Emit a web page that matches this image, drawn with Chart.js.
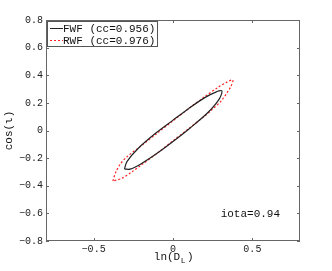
<!DOCTYPE html>
<html>
<head>
<meta charset="utf-8">
<style>
body {
	margin: 0;
	background: white;
}
#wrap {
	width: 332px;
	height: 271px;
}
</style>
<script src="https://cdn.jsdelivr.net/npm/chart.js@4/dist/chart.umd.min.js"></script>
</head>
<body>
<div id="wrap"><canvas id="myChart" width="332" height="271"></canvas></div>
<script>
// points (ln(D_L), cos(iota)), going round each loop
var fwfX = [-0.306, -0.29, -0.22, -0.11, 0, 0.1, 0.2, 0.27, 0.308, 0.29, 0.22, 0.11, 0, -0.1, -0.2, -0.27, -0.306];
var fwfY = [-0.279, -0.225, -0.13, -0.02, 0.075, 0.16, 0.238, 0.278, 0.286, 0.225, 0.13, 0.02, -0.08, -0.165, -0.24, -0.28, -0.279];
var rwfX = [-0.379, -0.36, -0.33, -0.29, -0.2, -0.1, 0, 0.1, 0.2, 0.28, 0.34, 0.377, 0.365, 0.345, 0.304, 0.24, 0.2, 0.1, 0, -0.1, -0.2, -0.26, -0.32, -0.379];
var rwfY = [-0.366, -0.3, -0.24, -0.19, -0.11, -0.02, 0.07, 0.16, 0.245, 0.31, 0.35, 0.366, 0.32, 0.281, 0.215, 0.145, 0.105, 0.015, -0.075, -0.165, -0.25, -0.3, -0.345, -0.366];
var seriesNames = ["FWF (cc=0.956)", "RWF (cc=0.976)"];
var xTicks = [-0.5, 0, 0.5];
var yTicks = [-0.8, -0.6, -0.4, -0.2, 0, 0.2, 0.4, 0.6, 0.8];
var note = "iota=0.94";

var mono = "'Liberation Mono', 'DejaVu Sans Mono', monospace";

function pts(xs, ys) {
	var out = [];
	for (var i = 0; i < xs.length; i++) out.push({x: xs[i], y: ys[i]});
	return out;
}

function fmt(v) {
	var s = (Math.round(v * 10) / 10).toString();
	return s.replace("-", "\u2212");
}

var extras = {
	id: "extras",
	afterDraw: function(chart) {
		var ctx = chart.ctx;
		var a = chart.chartArea;
		var xs = chart.scales.x, ys = chart.scales.y;
		ctx.save();
		// box + inward ticks
		ctx.strokeStyle = "#666";
		ctx.lineWidth = 1;
		ctx.strokeRect(a.left + 0.5, a.top + 0.5, a.right - a.left - 1, a.bottom - a.top - 1);
		ctx.beginPath();
		xTicks.forEach(function(v) {
			var p = Math.round(xs.getPixelForValue(v)) + 0.5;
			ctx.moveTo(p, a.bottom); ctx.lineTo(p, a.bottom - 3);
			ctx.moveTo(p, a.top); ctx.lineTo(p, a.top + 3);
		});
		yTicks.forEach(function(v) {
			var p = Math.round(ys.getPixelForValue(v)) + 0.5;
			ctx.moveTo(a.left, p); ctx.lineTo(a.left + 3, p);
			ctx.moveTo(a.right, p); ctx.lineTo(a.right - 3, p);
		});
		ctx.stroke();

		// legend
		var lx = a.left + 1, ly = a.top + 1, lw = 110, lh = 25;
		ctx.fillStyle = "white";
		ctx.fillRect(lx, ly, lw, lh);
		ctx.strokeStyle = "#555";
		ctx.strokeRect(lx + 0.5, ly + 0.5, lw, lh);
		ctx.font = "11px " + mono;
		ctx.textBaseline = "middle";
		ctx.fillStyle = "#111";
		var rows = [ly + 7, ly + 19];
		ctx.lineWidth = 1;
		ctx.strokeStyle = "#222";
		ctx.setLineDash([]);
		ctx.beginPath(); ctx.moveTo(lx + 3, rows[0] + 0.5); ctx.lineTo(lx + 16, rows[0] + 0.5); ctx.stroke();
		ctx.strokeStyle = "#ff2020";
		ctx.setLineDash([2, 2]);
		ctx.beginPath(); ctx.moveTo(lx + 3, rows[1] + 0.5); ctx.lineTo(lx + 16, rows[1] + 0.5); ctx.stroke();
		ctx.setLineDash([]);
		ctx.textAlign = "left";
		ctx.fillText(seriesNames[0], lx + 16, rows[0] + 1);
		ctx.fillText(seriesNames[1], lx + 16, rows[1] + 1);

		// note
		ctx.font = "11px " + mono;
		ctx.fillText(note, xs.getPixelForValue(0.3), ys.getPixelForValue(-0.605));

		// axis titles
		ctx.textAlign = "center";
		var cx = xs.getPixelForValue(0);
		var ty = a.bottom + 16;
		ctx.fillText("ln(D", cx - 6, ty);
		var w = ctx.measureText("ln(D").width;
		ctx.font = "8px " + mono;
		ctx.fillText("L", cx - 6 + w / 2 + 3, ty + 4);
		ctx.font = "11px " + mono;
		ctx.fillText(")", cx - 6 + w / 2 + 10, ty);

		ctx.translate(9, ys.getPixelForValue(0));
		ctx.rotate(-Math.PI / 2);
		ctx.fillText("cos(\u03b9)", 0, 0);
		ctx.restore();
	}
};

new Chart(document.getElementById("myChart"), {
	type: "scatter",
	data: {
		datasets: [{
			label: seriesNames[0],
			data: pts(fwfX, fwfY),
			showLine: true,
			borderColor: "#222",
			borderWidth: 1.2,
			pointRadius: 0,
			tension: 0.3
		}, {
			label: seriesNames[1],
			data: pts(rwfX, rwfY),
			showLine: true,
			borderColor: "#ff2020",
			borderWidth: 1.2,
			borderDash: [2, 2],
			pointRadius: 0,
			tension: 0.3
		}]
	},
	options: {
		responsive: false,
		animation: false,
		layout: {padding: {top: 20, right: 32, left: 0, bottom: 0}},
		plugins: {legend: {display: false}, tooltip: {enabled: false}},
		scales: {
			x: {
				min: -0.8, max: 0.8,
				afterBuildTicks: function(s) { s.ticks = xTicks.map(function(v) { return {value: v}; }); },
				afterFit: function(s) { s.height = 30; },
				grid: {display: false, drawTicks: false},
				border: {display: false},
				ticks: {color: "#222", font: {family: mono, size: 10}, padding: 2, maxRotation: 0, callback: function(v) { return fmt(v); }}
			},
			y: {
				min: -0.8, max: 0.8,
				afterBuildTicks: function(s) { s.ticks = yTicks.map(function(v) { return {value: v}; }); },
				afterFit: function(s) { s.width = 46; },
				grid: {display: false, drawTicks: false},
				border: {display: false},
				ticks: {color: "#222", font: {family: mono, size: 10}, padding: 3, callback: function(v) { return fmt(v); }}
			}
		}
	},
	plugins: [extras]
});
</script>
</body>
</html>
